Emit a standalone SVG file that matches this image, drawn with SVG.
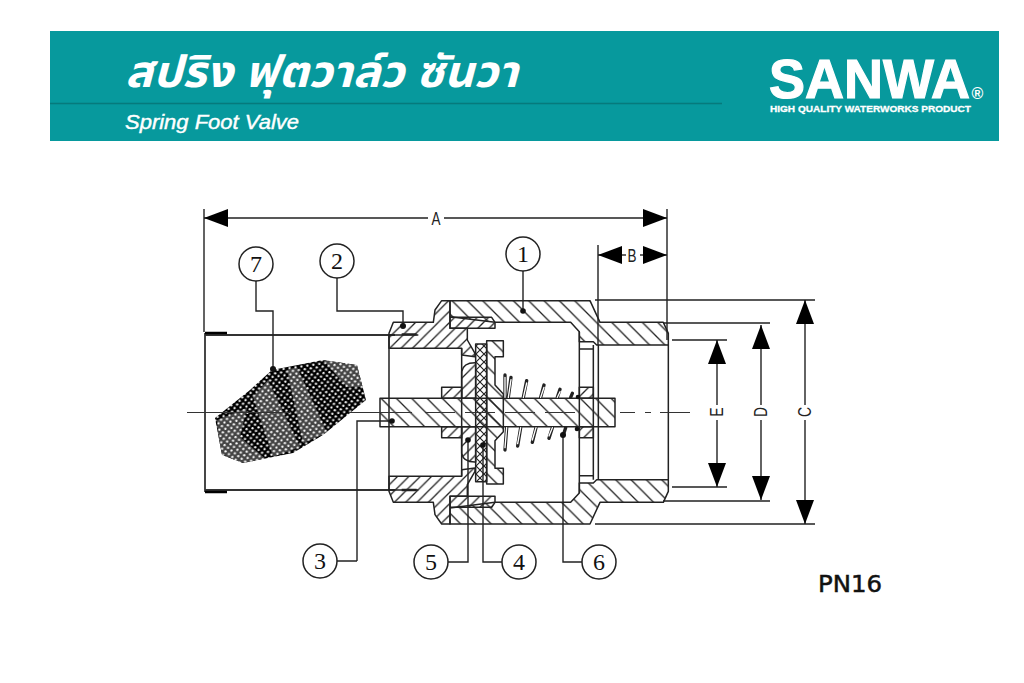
<svg xmlns="http://www.w3.org/2000/svg" width="1024" height="683" viewBox="0 0 1024 683">
<style>
.s{stroke:#222;stroke-width:4.5;stroke-linejoin:round}
.f{fill:url(#hf)}.b{fill:url(#hb)}.x{fill:url(#hx)}
.l{stroke:#222;stroke-width:1.4;fill:none}
.t{stroke:#222;stroke-width:4.5;fill:none}
.n{font:24px "Liberation Serif",serif;fill:#111;text-anchor:middle}
.c{fill:#fff;stroke:#222;stroke-width:1.5}
.d{font:18px "Liberation Sans",sans-serif;fill:#222;text-anchor:middle}
.sp{fill:none;stroke:#222;stroke-width:10;stroke-linecap:round}
.si{fill:none;stroke:#fff;stroke-width:4;stroke-linecap:round}
</style>
<defs>
<pattern id="hf" width="34" height="34" patternUnits="userSpaceOnUse"><path d="M-10 10L10 -10M0 34L34 0M24 44L44 24" stroke="#222" stroke-width="4"/></pattern>
<pattern id="hb" width="46" height="46" patternUnits="userSpaceOnUse"><path d="M-10 36L10 56M0 0L46 46M36 -10L56 10" stroke="#222" stroke-width="4"/></pattern>
<pattern id="hx" width="24" height="24" patternUnits="userSpaceOnUse"><path d="M0 24L24 0M0 0L24 24" stroke="#222" stroke-width="3.5"/></pattern>
<pattern id="mk" width="6" height="6.400" patternUnits="userSpaceOnUse" patternTransform="rotate(-8)"><rect width="6" height="6.400" fill="#000"/><circle cx="1.500" cy="1.600" r="1.150" fill="#fff"/><circle cx="4.500" cy="4.800" r="1.150" fill="#fff"/></pattern>
<pattern id="mg" width="6" height="6.400" patternUnits="userSpaceOnUse" patternTransform="rotate(-8)"><rect width="6" height="6.400" fill="#444"/><circle cx="1.500" cy="1.600" r="1.150" fill="#fff"/><circle cx="4.500" cy="4.800" r="1.150" fill="#fff"/></pattern>
<clipPath id="blob"><path d="M215 418L250 390L272 370L323 360L357 365L366 400L323 435L293 453L243 463L222 455Z"/></clipPath>
<marker id="ah" viewBox="0 0 24 18" refX="24" refY="9" markerWidth="24" markerHeight="18" markerUnits="userSpaceOnUse" orient="auto-start-reverse"><path d="M0 0L24 9L0 18Z" fill="#000"/></marker>
</defs>
<rect width="1024" height="683" fill="#fff"/>
<g id="header">
<rect x="50" y="31" width="949" height="110" fill="#07999d"/>
<path d="M50 103.500H722" stroke="#067a7c" stroke-width="1.300"/>
<text x="125" y="87" font-family="'Noto Sans Thai','Noto Sans','DejaVu Sans',sans-serif" font-size="44" font-weight="700" font-style="italic" fill="#fff" textLength="393" lengthAdjust="spacingAndGlyphs">สปริง ฟุตวาล์ว ซันวา</text>
<text x="125" y="129" font-family="'Liberation Sans',sans-serif" font-size="20" font-style="italic" fill="#fff" stroke="#fff" stroke-width=".4" textLength="174" lengthAdjust="spacingAndGlyphs">Spring Foot Valve</text>
<text x="769" y="98" font-family="'Liberation Sans',sans-serif" font-size="56" font-weight="700" fill="#fff" stroke="#fff" stroke-width="1.200" textLength="201" lengthAdjust="spacingAndGlyphs">SANWA</text>
<text x="770" y="112" font-family="'Liberation Sans',sans-serif" font-size="9.300" font-weight="700" fill="#fff" stroke="#fff" stroke-width=".3" textLength="201" lengthAdjust="spacingAndGlyphs">HIGH QUALITY WATERWORKS PRODUCT</text>
<text x="977.500" y="99" font-family="'Liberation Sans',sans-serif" font-size="16" font-weight="700" fill="#fff" text-anchor="middle">®</text>
</g>
<g id="screen">
<path d="M205 335H395M205 490H395M205 333V492" fill="none" stroke="#333" stroke-width="1.800"/>
<path d="M205 333H227M205 492H227" stroke="#000" stroke-width="2.500"/>
<g clip-path="url(#blob)">
<rect x="210" y="355" width="160" height="112" fill="url(#mk)"/>
<path d="M217 420L247 408L240 437L267 460L240 463L220 453ZM253 397L268 380L300 447L273 457ZM287 370L297 367L327 433L303 443ZM323 360L357 365L363 387L347 387Z" fill="url(#mg)"/>
</g>
</g>
<g id="valve" transform="translate(380 290) scale(.33333)">
<path class="s f" d="M27 175V130L40 97H160L165 60L185 32H210V115H262V150L285 190V200L245 195V175Z"/>
<path class="s f" d="M27 559V604L40 637H160L165 674L185 702H210V619H262V584L285 544V534L245 539V559Z"/>
<path class="s b" d="M210 32H630L660 97H850L865 130V165H650L640 155H598V125L572 97H345L210 80Z"/>
<path class="s b" d="M210 702H630L660 637H850L865 604V569H650L640 579H598V609L572 637H345L210 654Z"/>
<path class="s f" d="M210 82H335L345 97V115H210Z"/>
<path class="s f" d="M210 652H335L345 637V619H210Z"/>
<path class="t" d="M598 125V609M640 165V569M655 165V569M865 165V569M598 177H640M598 557H640M27 135V600M245 175V559"/>
<path class="s f" d="M245 325V245Q250 217 287 218V325Z"/>
<path class="s f" d="M245 410V490Q250 517 287 516V410Z"/>
<path class="s x" d="M287 162H320V575H287Z"/>
<path class="s b" d="M320 152H370V200H345V285L370 312V425L345 452V535H370V582H320Z"/>
<path class="s f" d="M185 292H245V325H185Z"/>
<path class="s f" d="M185 410H245V443H185Z"/>
<path class="s f" d="M598 292H640V325H598Z"/>
<path class="s f" d="M598 410H640V443H598Z"/>
<path class="s b" d="M0 325H705V410H0Z"/>
<g id="spring">
<path class="sp" d="M375 255V322M393 262L385 322M440 272L430 322M492 285L482 322M540 298L532 322M577 310L572 322M375 480L380 413M413 468L422 413M457 457L468 413M507 445L517 413M550 435L557 413"/>
<path class="si" d="M375 262V322M393 269L385 322M440 279L430 322M492 292L482 322M540 305L532 322M375 473L380 413M413 461L422 413M457 450L468 413M507 438L517 413"/>
</g>
<path d="M25 135H115M25 600H115" stroke="#222" stroke-width="4"/>
<path d="M65 133H110M65 600H110" stroke="#222" stroke-width="7"/>
</g>
<g id="connectors">
<path d="M187 412.500H290M350 412.500H380M380 412.500H412M425 412.500H455M465 412.500H495M505 412.500H535M545 412.500H575M620 412.500H635M645 412.500H651M660 412.500H690" stroke="#333" stroke-width="1.200" fill="none"/>
<path class="l" d="M204 209V332M667 209V340M598 245V345M667 246V340M595 300H815M595 524H815M663 323H770M663 501H770M672 340H727M672 487H727"/>
<path class="l" marker-start="url(#ah)" marker-end="url(#ah)" d="M204 218H428M444 218H667"/>
<path class="l" marker-start="url(#ah)" d="M598 255H626"/><path class="l" marker-start="url(#ah)" d="M667 255H640"/>
<path class="l" marker-start="url(#ah)" d="M805 300V405"/><path class="l" marker-start="url(#ah)" d="M805 524V420"/>
<path class="l" marker-start="url(#ah)" d="M761 325V405"/><path class="l" marker-start="url(#ah)" d="M761 500V420"/>
<path class="l" marker-start="url(#ah)" d="M717 340V405"/><path class="l" marker-start="url(#ah)" d="M717 487V420"/>
<path class="l" d="M523 271V311M337 278V311H403V326M357 561V421H392M337 561H357M256 281V311H273V369M502 562H483V445M448 562H468V438M582 562H563V435"/>
<g fill="#111"><circle cx="523" cy="311" r="2.800"/><circle cx="403" cy="326" r="3"/><circle cx="392" cy="421" r="2.800"/><circle cx="273" cy="369" r="3"/><circle cx="483" cy="445" r="2.800"/><circle cx="468" cy="440" r="2.800"/><circle cx="563" cy="435" r="3"/><circle cx="578" cy="397" r="2.300"/><circle cx="577" cy="429" r="2.300"/></g>
</g>
<g id="dimensions">
<text class="d" x="436" y="225" textLength="9" lengthAdjust="spacingAndGlyphs">A</text>
<text class="d" x="632" y="262" textLength="9" lengthAdjust="spacingAndGlyphs">B</text>
<text class="d" transform="translate(811 412) rotate(-90)" textLength="10" lengthAdjust="spacingAndGlyphs">C</text>
<text class="d" transform="translate(767 412) rotate(-90)" textLength="10" lengthAdjust="spacingAndGlyphs">D</text>
<text class="d" transform="translate(723 412) rotate(-90)" textLength="9" lengthAdjust="spacingAndGlyphs">E</text>
</g>
<g id="n1"><circle class="c" cx="523" cy="254" r="17"/><text class="n" x="523" y="262">1</text></g>
<g id="n2"><circle class="c" cx="337" cy="261" r="17"/><text class="n" x="337" y="269">2</text></g>
<g id="n3"><circle class="c" cx="320" cy="561" r="17"/><text class="n" x="320" y="569">3</text></g>
<g id="n4"><circle class="c" cx="519" cy="562" r="17"/><text class="n" x="519" y="570">4</text></g>
<g id="n5"><circle class="c" cx="431" cy="562" r="17"/><text class="n" x="431" y="570">5</text></g>
<g id="n6"><circle class="c" cx="599" cy="562" r="17"/><text class="n" x="599" y="570">6</text></g>
<g id="n7"><circle class="c" cx="256" cy="264" r="17"/><text class="n" x="256" y="272">7</text></g>
<text x="818" y="592" font-family="'DejaVu Sans',sans-serif" font-size="23" fill="#111" stroke="#111" stroke-width=".5" textLength="64" lengthAdjust="spacingAndGlyphs">PN16</text>
</svg>
